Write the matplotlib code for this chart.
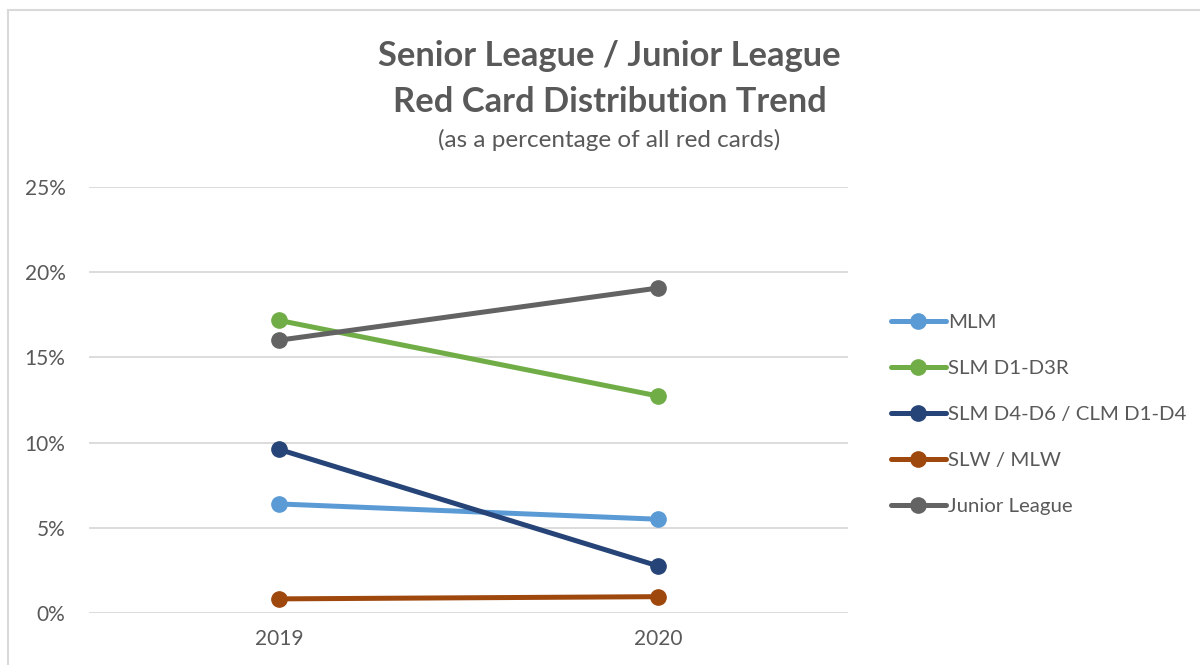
import matplotlib
matplotlib.use('Agg')
import matplotlib.pyplot as plt
from matplotlib.patches import Rectangle
from matplotlib.ticker import FuncFormatter

plt.rcParams['font.family'] = ['Lato', 'DejaVu Sans']

years = ['2019', '2020']
mlm = [6.39, 5.49]
slm_d1_d3r = [17.18, 12.73]
slm_d4_d6 = [9.60, 2.74]
slw_mlw = [0.81, 0.94]
junior = [16.01, 19.08]

series_names = ['MLM', 'SLM D1-D3R', 'SLM D4-D6 / CLM D1-D4', 'SLW / MLW', 'Junior League']
series_vals = [mlm, slm_d1_d3r, slm_d4_d6, slw_mlw, junior]
series_colors = ['#5B9BD5', '#70AD47', '#264478', '#9E480E', '#636363']

text_col = '#595959'

fig = plt.figure(figsize=(12, 6.65), dpi=100)
ax = fig.add_axes([0.0742, 0.0787, 0.6325, 0.6397])

x = list(range(len(years)))
for name, vals, c in zip(series_names, series_vals, series_colors):
    ax.plot(x, vals, color=c, lw=3.6, marker='o', ms=11, label=name,
            solid_capstyle='round')

ax.set_xlim(-0.5, 1.5)
ax.set_ylim(0, 25)
ax.set_yticks([0, 5, 10, 15, 20, 25])
ax.yaxis.set_major_formatter(FuncFormatter(lambda v, p: f'{v:.0f}%'))
ax.set_xticks(x)
ax.set_xticklabels(years)
ax.tick_params(length=0, labelsize=15, colors=text_col)
ax.tick_params(axis='y', pad=17)
ax.tick_params(axis='x', pad=12)
ax.grid(axis='y', color='#D9D9D9', lw=1.3)
ax.set_axisbelow(True)
for s in ax.spines.values():
    s.set_visible(False)

leg = fig.legend(loc='center left', bbox_to_anchor=(0.727, 0.377), frameon=False,
                 fontsize=14.7, handlelength=2.7, handletextpad=0.1,
                 labelspacing=1.4, labelcolor=text_col)

fig.text(0.508, 0.916, 'Senior League / Junior League', ha='center', va='center',
         fontsize=24.8, fontweight='bold', color=text_col)
fig.text(0.508, 0.847, 'Red Card Distribution Trend', ha='center', va='center',
         fontsize=24.8, fontweight='bold', color=text_col)
fig.text(0.508, 0.789, '(as a percentage of all red cards)', ha='center', va='center',
         fontsize=17.5, color=text_col)

fig.patches.append(Rectangle((8 / 1200, -0.1), 1.2, 1 - 10 / 665 + 0.1,
                             transform=fig.transFigure, fill=False,
                             edgecolor='#D9D9D9', lw=1.5))

fig.savefig('out.png', dpi=100)
